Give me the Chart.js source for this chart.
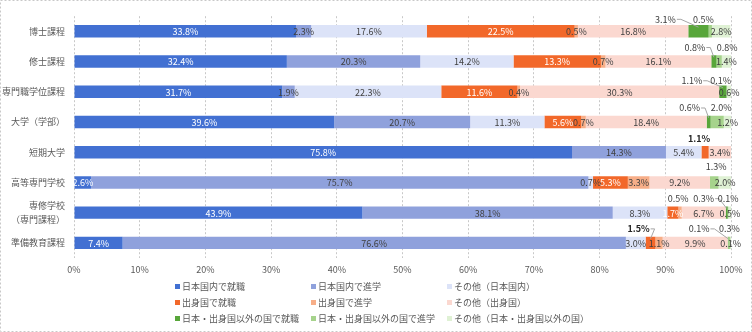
<!DOCTYPE html>
<html>
<head>
<meta charset="utf-8">
<script src="https://cdn.jsdelivr.net/npm/chart.js@4/dist/chart.umd.min.js"></script>
<style>
  body { margin: 0; background: #fff; overflow: hidden; }
  #wrap { position: relative; width: 752px; height: 332px; }
  #legend { position: absolute; left: 0; top: 0; width: 752px; height: 332px; pointer-events: none;
            font-family: "Noto Sans CJK JP", "Noto Sans", sans-serif; font-size: 9px; color: #595959; }
  .item { position: absolute; white-space: nowrap; line-height: 12px; }
  .box { display: inline-block; width: 5px; height: 5px; margin-right: 2px; vertical-align: 1px; }
</style>
</head>
<body>
<div id="wrap">
  <canvas id="chart" width="752" height="332"></canvas>
  <div id="legend"></div>
</div>
<script>
const categories = ['博士課程', '修士課程', '専門職学位課程', '大学（学部）', '短期大学', '高等専門学校', ['専修学校', '（専門課程）'], '準備教育課程'];
const seriesNames = ['日本国内で就職', '日本国内で進学', 'その他（日本国内）', '出身国で就職', '出身国で進学', 'その他（出身国）', '日本・出身国以外の国で就職', '日本・出身国以外の国で進学', 'その他（日本・出身国以外の国）'];

const employJapan = [33.8, 32.4, 31.7, 39.6, 75.8, 2.6, 43.9, 7.4];
const studyJapan  = [2.3, 20.3, 1.9, 20.7, 14.3, 75.7, 38.1, 76.6];
const otherJapan  = [17.6, 14.2, 22.3, 11.3, 5.4, 0.7, 8.3, 3.0];
const employHome  = [22.5, 13.3, 11.6, 5.6, 1.1, 5.3, 1.7, 1.5];
const studyHome   = [0.5, 0.7, 0.4, 0.7, 0, 3.3, 0.5, 1.1];
const otherHome   = [16.8, 16.1, 30.3, 18.4, 3.4, 9.2, 6.7, 9.9];
const employThird = [3.1, 0.8, 1.1, 0.6, 0, 0, 0.3, 0.1];
const studyThird  = [0.5, 0.8, 0.1, 2.0, 0, 1.3, 0.1, 0.3];
const otherThird  = [2.8, 1.4, 0.6, 1.2, 0, 2.0, 0.5, 0.1];

const xTicks = [0, 10, 20, 30, 40, 50, 60, 70, 80, 90, 100];

const allSeries = [employJapan, studyJapan, otherJapan, employHome, studyHome, otherHome, employThird, studyThird, otherThird];

const colors = ['#4270d2', '#8fa1dc', '#dce3f8', '#f2682a', '#f7ae88', '#fbd8d0', '#58a63a', '#a6d38c', '#dff1d4'];

// labels drawn above the bar: [row, dataset, dx, dy, bold]
const callouts = [
  [0, 6, -33, -12], [0, 7, -7, -12],
  [1, 6, -19, -14], [1, 7, 8, -14],
  [2, 6, -31, -11], [2, 7, -6, -11],
  [3, 6, -19, -14], [3, 7, 4, -14],
  [4, 3, -6, -14, true],
  [5, 7, 2, -16],
  [6, 4, -2, -14], [6, 6, -23, -14], [6, 7, 0, -14],
  [7, 3, -12, -14, true], [7, 6, -29, -14], [7, 7, 0, -14]
];

const FONT = '"Noto Sans CJK JP", "Noto Sans", sans-serif';

const labelPlugin = {
  id: 'segLabels',
  afterDatasetsDraw(chart) {
    const ctx = chart.ctx;
    ctx.save();
    ctx.textBaseline = 'middle';
    ctx.textAlign = 'center';
    chart.data.datasets.forEach((ds, i) => {
      const meta = chart.getDatasetMeta(i);
      meta.data.forEach((el, j) => {
        const v = ds.data[j];
        if (!v) return;
        const txt = v.toFixed(1) + '%';
        const cx = (el.x + el.base) / 2;
        const co = callouts.find(c => c[0] === j && c[1] === i);
        if (co) {
          const lx = cx + co[2], ly = el.y + co[3];
          ctx.font = (co[4] ? 'bold ' : '') + '9px ' + FONT;
          if (Math.abs(co[2]) > 10) {
            const hw = ctx.measureText(txt).width / 2;
            const sx = co[2] < 0 ? lx + hw + 1 : lx - hw - 1;
            const ex = co[2] < 0 ? sx + 4 : sx - 4;
            ctx.strokeStyle = '#a6a6a6';
            ctx.lineWidth = 1;
            ctx.beginPath();
            ctx.moveTo(sx, ly);
            ctx.lineTo(ex, ly);
            ctx.lineTo(cx, el.y - el.height / 2 + 2);
            ctx.stroke();
          }
          ctx.fillStyle = co[4] ? '#262626' : '#404040';
          ctx.fillText(txt, lx, ly);
        } else {
          ctx.font = '9px ' + FONT;
          ctx.fillStyle = (i === 0 || i === 3) ? '#ffffff' : '#404040';
          ctx.fillText(txt, cx, el.y + 0.5);
        }
      });
    });
    ctx.restore();
  }
};

const framePlugin = {
  id: 'frame',
  afterDraw(chart) {
    const ctx = chart.ctx;
    ctx.save();
    ctx.strokeStyle = '#c8c8c8';
    ctx.setLineDash([2, 2]);
    ctx.lineWidth = 1;
    ctx.strokeRect(0.5, 0.5, chart.width - 1, chart.height - 1);
    ctx.restore();
  }
};

function buildLegend() {
  const el = document.getElementById('legend');
  const colX = [175, 311, 447];
  const rowY = [281, 297, 313];
  seriesNames.forEach((name, i) => {
    const d = document.createElement('div');
    d.className = 'item';
    d.style.left = colX[i % 3] + 'px';
    d.style.top = rowY[Math.floor(i / 3)] + 'px';
    d.innerHTML = '<span class="box" style="background:' + colors[i] + '"></span>' + name;
    el.appendChild(d);
  });
}

function drawChart() {
  const datasets = allSeries.map((arr, i) => ({
    label: seriesNames[i],
    data: arr,
    backgroundColor: colors[i],
    borderWidth: 0,
    barPercentage: 0.41,
    categoryPercentage: 1
  }));

  new Chart(document.getElementById('chart'), {
    type: 'bar',
    data: { labels: categories, datasets },
    options: {
      indexAxis: 'y',
      responsive: false,
      animation: false,
      layout: { padding: { top: 10, right: 21, left: 0, bottom: 0 } },
      plugins: { legend: { display: false }, tooltip: { enabled: false } },
      scales: {
        x: {
          stacked: true, min: 0, max: 100,
          afterBuildTicks: s => { s.ticks = xTicks.map(v => ({ value: v })); },
          afterFit: s => { s.height = 74; },
          grid: { color: '#c8c8c8', drawTicks: false },
          border: { display: false, dash: [2, 2] },
          ticks: { padding: 6, color: '#595959', font: { family: FONT, size: 9 }, callback: v => v + '%' }
        },
        y: {
          stacked: true,
          afterFit: s => { s.width = 74; },
          grid: { display: false, drawTicks: false },
          border: { display: false },
          ticks: { autoSkip: false, padding: 9, color: '#595959', font: { family: FONT, size: 9, lineHeight: 1.6 } }
        }
      }
    },
    plugins: [labelPlugin, framePlugin]
  });
}

buildLegend();
drawChart();
</script>
</body>
</html>
